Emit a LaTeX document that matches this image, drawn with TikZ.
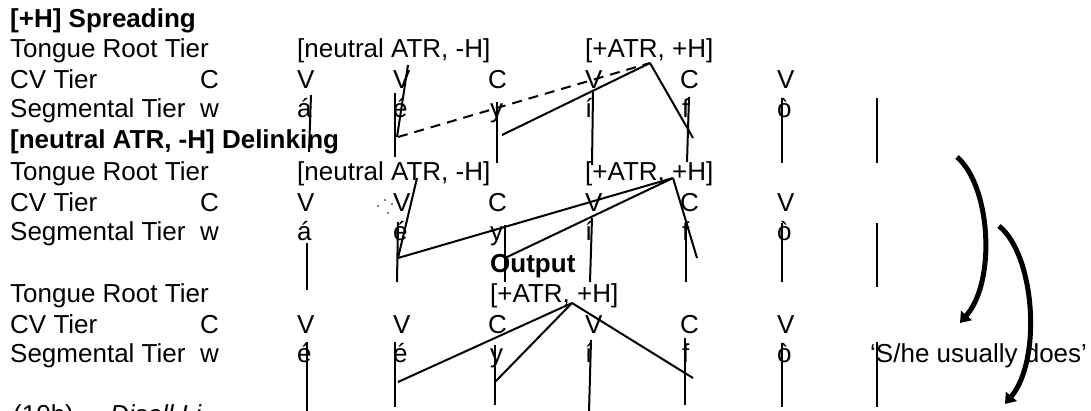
\documentclass[tikz,border=0pt]{standalone}
\usepackage{fontspec}
\setmainfont{Liberation Sans}
\usetikzlibrary{arrows.meta}
\begin{document}
\begin{tikzpicture}[x=1pt,y=-1pt,
 txt/.style={anchor=base west,inner sep=0pt,font=\fontsize{26}{30}\selectfont},
 ttl/.style={anchor=base west,inner sep=0pt,font=\fontsize{26}{30}\selectfont\bfseries},
 ln/.style={line width=2pt},
 dsh/.style={line width=2pt,dash pattern=on 10pt off 7pt},
 bigarrow/.style={line width=5pt,-{Triangle[length=10pt,width=14pt]}},
 dotty/.style={fill=black,circle,inner sep=0pt,minimum size=1.8pt}]
\useasboundingbox (0,0) rectangle (1091,410);
\clip (0,0) rectangle (1091,410);
% ---------- Block 1 ----------
\node[ttl] (t1) at (10,27) {[+H] Spreading};
\node[txt] (a1) at (10,57) {Tongue Root Tier};
\node[txt] (a2) at (297,57) {[neutral ATR, -H]};
\node[txt] (a3) at (585,57) {[+ATR, +H]};
\node[txt] (b1) at (10,88) {CV Tier};
\node[txt] (b2) at (200,88) {C};
\node[txt] (b3) at (297,88) {V};
\node[txt] (b4) at (393,88) {V};
\node[txt] (b5) at (488,88) {C};
\node[txt] (b6) at (585,88) {V};
\node[txt] (b7) at (680,88) {C};
\node[txt] (b8) at (777,88) {V};
\node[txt] (c1) at (10,117) {Segmental Tier};
\node[txt] (c2) at (200,117) {w};
\node[txt] (c3) at (297,117) {á};
\node[txt] (c4) at (393,117) {é};
\node[txt] (c5) at (490,117) {y};
\node[txt] (c6) at (585,117) {í};
\node[txt] (c7) at (682,117) {f};
\node[txt] (c8) at (777,117) {ò};
% ---------- Block 2 ----------
\node[ttl] (t2) at (10,148) {[neutral ATR, -H] Delinking};
\node[txt] (d1) at (10,180) {Tongue Root Tier};
\node[txt] (d2) at (297,180) {[neutral ATR, -H]};
\node[txt] (d3) at (585,180) {[+ATR, +H]};
\node[txt] (e1) at (10,211) {CV Tier};
\node[txt] (e2) at (200,211) {C};
\node[txt] (e3) at (297,211) {V};
\node[txt] (e4) at (393,211) {V};
\node[txt] (e5) at (488,211) {C};
\node[txt] (e6) at (585,211) {V};
\node[txt] (e7) at (680,211) {C};
\node[txt] (e8) at (777,211) {V};
\node[txt] (f1) at (10,240) {Segmental Tier};
\node[txt] (f2) at (200,240) {w};
\node[txt] (f3) at (297,240) {á};
\node[txt] (f4) at (393,240) {é};
\node[txt] (f5) at (490,240) {y};
\node[txt] (f6) at (585,240) {í};
\node[txt] (f7) at (682,240) {f};
\node[txt] (f8) at (777,240) {ò};
\node[dotty] (p1) at (378,206) {};
\node[dotty] (p2) at (385,200) {};
\node[dotty] (p3) at (392,204) {};
\node[dotty] (p4) at (388,213) {};
% ---------- Block 3 ----------
\node[ttl] (t3) at (490,272) {Output};
\node[txt] (g1) at (10,302) {Tongue Root Tier};
\node[txt] (g3) at (490,302) {[+ATR, +H]};
\node[txt] (h1) at (10,333) {CV Tier};
\node[txt] (h2) at (200,333) {C};
\node[txt] (h3) at (297,333) {V};
\node[txt] (h4) at (393,333) {V};
\node[txt] (h5) at (488,333) {C};
\node[txt] (h6) at (585,333) {V};
\node[txt] (h7) at (680,333) {C};
\node[txt] (h8) at (777,333) {V};
\node[txt] (k1) at (10,362) {Segmental Tier};
\node[txt] (k2) at (200,362) {w};
\node[txt] (k3) at (297,362) {é};
\node[txt] (k4) at (393,362) {é};
\node[txt] (k5) at (490,362) {y};
\node[txt] (k6) at (585,362) {í};
\node[txt] (k7) at (682,362) {f};
\node[txt] (k8) at (777,362) {ò};
\node[txt] (gl) at (870,362) {‘S/he usually does’};
\node[txt] (ex) at (13,423) {(10b)};
\node[txt,font=\fontsize{26}{30}\selectfont\itshape] (ex2) at (110,423) {Disall Li};
% ---------- coordinates block 1 ----------
\coordinate (A1s) at (311,95);  \coordinate (A1e) at (309,152);
\coordinate (A2s) at (408,65);  \coordinate (A2e) at (397,137);
\coordinate (A3s) at (395,93);  \coordinate (A3e) at (395,157);
\coordinate (A4s) at (398,137); \coordinate (Ap1) at (650,63);
\coordinate (A5s) at (502,135);
\coordinate (A6s) at (497,102); \coordinate (A6e) at (497,163);
\coordinate (A7s) at (593,92);  \coordinate (A7e) at (592,165);
\coordinate (A8e) at (693,138);
\coordinate (A9s) at (689,97);  \coordinate (A9e) at (687,162);
\coordinate (A10s) at (782,98); \coordinate (A10e) at (782,163);
\coordinate (A11s) at (877,98); \coordinate (A11e) at (877,163);
\draw[ln] (A1s) -- (A1e);
\draw[ln] (A2s) -- (A2e);
\draw[ln] (A3s) -- (A3e);
\draw[dsh] (A4s) -- (Ap1);
\draw[ln] (A5s) -- (Ap1);
\draw[ln] (A6s) -- (A6e);
\draw[ln] (A7s) -- (A7e);
\draw[ln] (Ap1) -- (A8e);
\draw[ln] (A9s) -- (A9e);
\draw[ln] (A10s) -- (A10e);
\draw[ln] (A11s) -- (A11e);
% ---------- coordinates block 2 ----------
\coordinate (B1s) at (307,243); \coordinate (B1e) at (307,290);
\coordinate (B2s) at (417,178); \coordinate (B2e) at (398,258);
\coordinate (B3s) at (398,222); \coordinate (B3e) at (397,282);
\coordinate (Ap2) at (673,178);
\coordinate (B5s) at (505,258);
\coordinate (B6s) at (505,225); \coordinate (B6e) at (505,282);
\coordinate (B7s) at (592,218); \coordinate (B7e) at (590,282);
\coordinate (B8e) at (697,258);
\coordinate (B9s) at (686,225); \coordinate (B9e) at (686,282);
\coordinate (B10s) at (782,223); \coordinate (B10e) at (782,282);
\coordinate (B11s) at (877,223); \coordinate (B11e) at (877,287);
\draw[ln] (B1s) -- (B1e);
\draw[ln] (B2s) -- (B2e);
\draw[ln] (B3s) -- (B3e);
\draw[ln] (B2e) -- (Ap2);
\draw[ln] (B5s) -- (Ap2);
\draw[ln] (B6s) -- (B6e);
\draw[ln] (B7s) -- (B7e);
\draw[ln] (Ap2) -- (B8e);
\draw[ln] (B9s) -- (B9e);
\draw[ln] (B10s) -- (B10e);
\draw[ln] (B11s) -- (B11e);
% ---------- coordinates block 3 ----------
\coordinate (C1s) at (307,342); \coordinate (C1e) at (307,412);
\coordinate (C2s) at (395,342); \coordinate (C2e) at (395,407);
\coordinate (C3s) at (495,345); \coordinate (C3e) at (495,405);
\coordinate (C4s) at (591,340); \coordinate (C4e) at (589,412);
\coordinate (C5s) at (685,338); \coordinate (C5e) at (685,405);
\coordinate (C6s) at (782,343); \coordinate (C6e) at (782,407);
\coordinate (C7s) at (877,342); \coordinate (C7e) at (877,407);
\coordinate (Ap3) at (572,303);
\coordinate (C8e) at (398,382);
\coordinate (C9e) at (495,382);
\coordinate (C10e) at (693,378);
\draw[ln] (C1s) -- (C1e);
\draw[ln] (C2s) -- (C2e);
\draw[ln] (C3s) -- (C3e);
\draw[ln] (C4s) -- (C4e);
\draw[ln] (C5s) -- (C5e);
\draw[ln] (C6s) -- (C6e);
\draw[ln] (C7s) -- (C7e);
\draw[ln] (Ap3) -- (C8e);
\draw[ln] (Ap3) -- (C9e);
\draw[ln] (Ap3) -- (C10e);
% ---------- curved arrows ----------
\coordinate (R1s) at (957,157); \coordinate (R1e) at (960,323);
\coordinate (R2s) at (999,226); \coordinate (R2e) at (1005,404);
\draw[bigarrow] (R1s) .. controls (990,185) and (997,280) .. (R1e);
\draw[bigarrow] (R2s) .. controls (1035,255) and (1042,360) .. (R2e);
\end{tikzpicture}
\end{document}
